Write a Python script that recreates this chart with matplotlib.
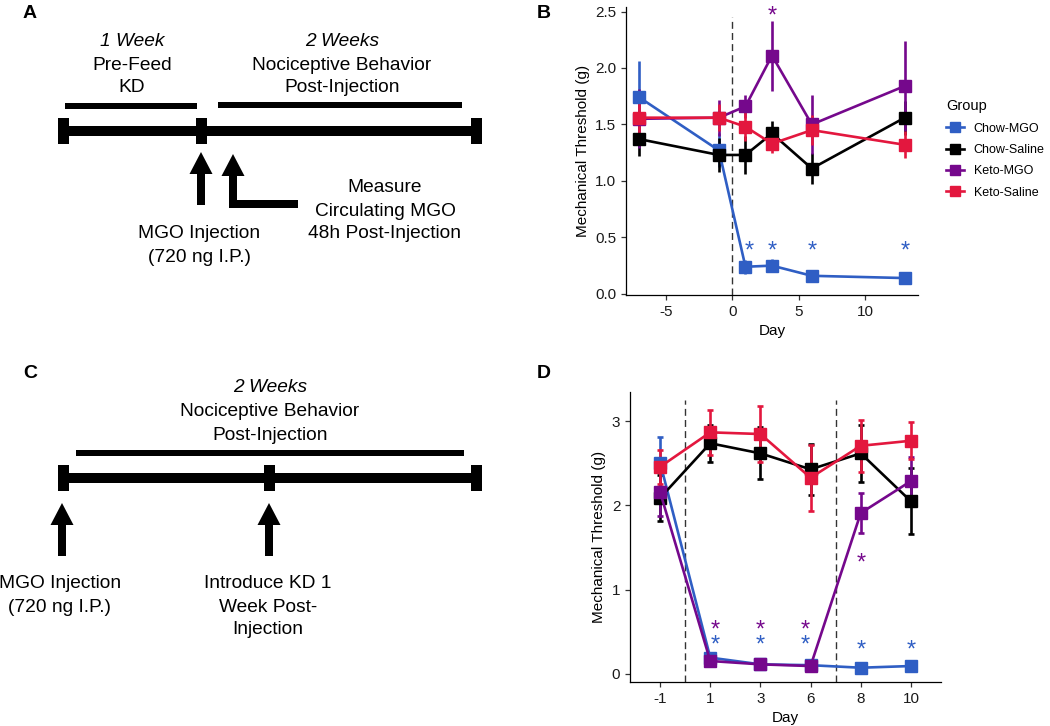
import numpy as np
import matplotlib
matplotlib.use("Agg")
import matplotlib.pyplot as plt
from matplotlib.patches import Rectangle, FancyArrow
from matplotlib.lines import Line2D
import matplotlib.transforms as mtransforms

plt.rcParams['font.family'] = ['Liberation Sans', 'DejaVu Sans']
plt.rcParams['axes.unicode_minus'] = False

# groups and colours
groups = ['Chow-MGO', 'Chow-Saline', 'Keto-MGO', 'Keto-Saline']
colors = ['#2F5EC4', '#000000', '#75088C', '#E3173E']

# panel B: days and mean +/- sem
days_b = [-7, -1, 1, 3, 6, 13]
mean_b = {
    'Chow-MGO':    [1.74, 1.27, 0.24, 0.25, 0.16, 0.14],
    'Chow-Saline': [1.37, 1.23, 1.23, 1.42, 1.11, 1.56],
    'Keto-MGO':    [1.55, 1.56, 1.66, 2.11, 1.50, 1.84],
    'Keto-Saline': [1.56, 1.56, 1.48, 1.33, 1.45, 1.32],
}
sem_b = {
    'Chow-MGO':    [0.32, 0.15, 0.06, 0.06, 0.02, 0.03],
    'Chow-Saline': [0.15, 0.15, 0.17, 0.11, 0.14, 0.15],
    'Keto-MGO':    [0.26, 0.16, 0.10, 0.31, 0.26, 0.40],
    'Keto-Saline': [0.22, 0.12, 0.13, 0.08, 0.13, 0.12],
}
# significance stars (x, y, group)
stars_b = [(1.3, 0.42, 'Chow-MGO'), (3, 0.42, 'Chow-MGO'), (6, 0.42, 'Chow-MGO'),
           (13, 0.42, 'Chow-MGO'), (3, 2.50, 'Keto-MGO')]

# panel D: discrete days
days_d = ['-1', '1', '3', '6', '8', '10']
mean_d = {
    'Chow-MGO':    [2.51, 0.19, 0.11, 0.10, 0.07, 0.09],
    'Chow-Saline': [2.09, 2.74, 2.62, 2.43, 2.62, 2.05],
    'Keto-MGO':    [2.16, 0.15, 0.11, 0.09, 1.91, 2.29],
    'Keto-Saline': [2.46, 2.87, 2.85, 2.33, 2.71, 2.77],
}
sem_d = {
    'Chow-MGO':    [0.30, 0.02, 0.02, 0.02, 0.02, 0.02],
    'Chow-Saline': [0.27, 0.22, 0.31, 0.30, 0.34, 0.39],
    'Keto-MGO':    [0.28, 0.02, 0.02, 0.02, 0.24, 0.29],
    'Keto-Saline': [0.20, 0.27, 0.33, 0.39, 0.31, 0.22],
}
stars_d = [(1.1, 0.575, 'Keto-MGO'), (2, 0.575, 'Keto-MGO'), (2.9, 0.575, 'Keto-MGO'),
           (4, 1.37, 'Keto-MGO'),
           (1.1, 0.40, 'Chow-MGO'), (2, 0.40, 'Chow-MGO'), (2.9, 0.40, 'Chow-MGO'),
           (4, 0.34, 'Chow-MGO'), (5, 0.33, 'Chow-MGO')]

W, H = 1050, 726
fig = plt.figure(figsize=(W / 100, H / 100), dpi=100)

# ---------- schematic panels A and C (pixel coordinates) ----------
bg = fig.add_axes([0, 0, 1, 1])
bg.set_xlim(0, W)
bg.set_ylim(H, 0)
bg.axis('off')

def hbar(x0, x1, y, t):
    bg.add_patch(Rectangle((x0, y - t / 2), x1 - x0, t, color='black', lw=0))

def tick(x, y):
    bg.add_patch(Rectangle((x - 5.5, y - 13), 11, 26, color='black', lw=0))

def up_arrow(x, ybot, ytip):
    bg.add_patch(FancyArrow(x, ybot, 0, ytip - ybot, width=8, head_width=23,
                            head_length=22, length_includes_head=True,
                            color='black', lw=0))

txt = dict(ha='center', va='center', fontsize=13.8)
lab = dict(fontsize=14, fontweight='bold', ha='center', va='center')

# panel A
bg.text(30, 14, 'A', **lab)
hbar(58, 482, 131, 10)
for x in (63.5, 201, 476.5):
    tick(x, 131)
hbar(65, 197, 106, 6)
hbar(218, 462, 105, 6)
bg.text(132, 42, '1 Week', style='italic', **txt)
bg.text(132, 65, 'Pre-Feed', **txt)
bg.text(132, 88, 'KD', **txt)
bg.text(342, 42, '2 Weeks', style='italic', **txt)
bg.text(342, 65, 'Nociceptive Behavior', **txt)
bg.text(342, 88, 'Post-Injection', **txt)
up_arrow(201, 205, 152)
up_arrow(233, 207, 154)
bg.add_patch(Rectangle((229, 200), 69, 8, color='black', lw=0))
bg.text(385, 188, 'Measure', **txt)
bg.text(385, 211, 'Circulating MGO', **txt)
bg.text(385, 234, '48h Post-Injection', **txt)
bg.text(199, 233, 'MGO Injection', **txt)
bg.text(199, 257, '(720 ng I.P.)', **txt)

# panel C
bg.text(30, 374, 'C', **lab)
hbar(58, 482, 478, 10)
for x in (63.5, 269.5, 476.5):
    tick(x, 478)
hbar(76, 464, 453, 6)
bg.text(270, 388, '2 Weeks', style='italic', **txt)
bg.text(270, 412, 'Nociceptive Behavior', **txt)
bg.text(270, 435, 'Post-Injection', **txt)
up_arrow(62, 556, 503)
up_arrow(269, 556, 503)
bg.text(60, 583, 'MGO Injection', **txt)
bg.text(60, 607, '(720 ng I.P.)', **txt)
bg.text(268, 583, 'Introduce KD 1', **txt)
bg.text(268, 607, 'Week Post-', **txt)
bg.text(268, 630, 'Injection', **txt)

bg.text(544, 13, 'B', **lab)
bg.text(544, 374, 'D', **lab)

# ---------- data panels ----------
def px_rect(l, r, t, b):
    return [l / W, (H - b) / H, (r - l) / W, (b - t) / H]

def style_axes(ax):
    for s in ('top', 'right'):
        ax.spines[s].set_visible(False)
    for s in ('left', 'bottom'):
        ax.spines[s].set_linewidth(0.9)
    ax.tick_params(length=3.5, width=0.9, color='#333333', labelsize=11,
                   labelcolor='#1a1a1a')
    ax.set_facecolor('none')

def stars(ax, pts):
    off = mtransforms.offset_copy(ax.transData, fig=fig, y=-8, units='points')
    for x, y, g in pts:
        ax.text(x, y, '*', color=colors[groups.index(g)], fontsize=17,
                ha='center', va='baseline', transform=off)

axb = fig.add_axes(px_rect(626, 918, 7, 295))
style_axes(axb)
axb.axvline(0, ymin=0, ymax=(2.45 + 0.01) / 2.55, color='#333333', ls=(0, (5, 3)), lw=1)
for g, c in zip(groups, colors):
    axb.errorbar(days_b, mean_b[g], yerr=sem_b[g], color=c, marker='s', ms=8,
                 lw=1.9, elinewidth=1.9, capsize=0)
stars(axb, stars_b)
axb.set_xlim(-8, 14)
axb.set_ylim(-0.01, 2.54)
axb.set_xticks([-5, 0, 5, 10])
axb.set_yticks(np.arange(0, 2.51, 0.5))
axb.set_yticklabels([f'{v:.1f}' for v in np.arange(0, 2.51, 0.5)])
axb.set_xlabel('Day', fontsize=11)
axb.set_ylabel('Mechanical Threshold (g)', fontsize=11)

handles = [Line2D([], [], color=c, marker='s', ms=7, lw=1.9) for c in colors]
fig.legend(handles, groups, title='Group', loc='upper left',
           bbox_to_anchor=(935 / W, 1 - 88 / H), frameon=False, fontsize=9,
           title_fontsize=10.5, handlelength=1.4, labelspacing=0.75,
           alignment='left')

axd = fig.add_axes(px_rect(630, 941, 392, 682))
style_axes(axd)
xd = np.arange(len(days_d))
for xv in (0.5, 3.5):
    axd.axvline(xv, ymin=0, ymax=(3.25 + 0.1) / 3.45, color='#333333', ls=(0, (5, 3)), lw=1)
for g, c in zip(groups, colors):
    axd.errorbar(xd, mean_d[g], yerr=sem_d[g], color=c, marker='s', ms=8,
                 lw=1.9, elinewidth=1.9, capsize=2, capthick=1.9)
stars(axd, stars_d)
axd.set_xlim(-0.6, 5.6)
axd.set_ylim(-0.1, 3.35)
axd.set_xticks(xd)
axd.set_xticklabels(days_d)
axd.set_yticks([0, 1, 2, 3])
axd.set_xlabel('Day', fontsize=11)
axd.set_ylabel('Mechanical Threshold (g)', fontsize=11)

fig.savefig('out.png', dpi=100)
